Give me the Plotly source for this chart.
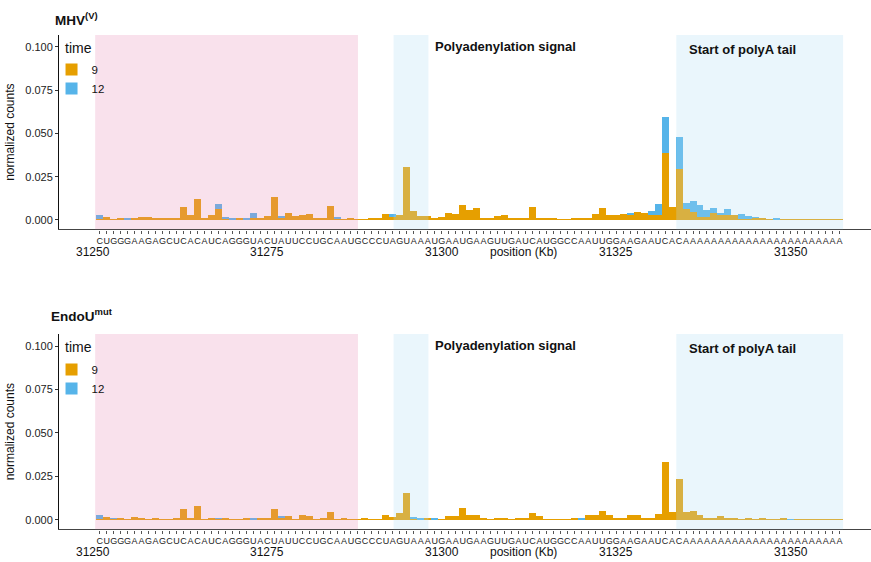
import plotly.graph_objects as go

# ---------------- data ----------------
positions = list(range(31251, 31358))
seq_parts = ["CUGGGAAGAGCUCACAUCAGGGUACUAUUCCUGCAAUG",
             "CCCUAGUAAAUGAAUGAAGUUGAUCAUGGCCAAUUG",
             "GAAGAAUCAC",
             "AAAAAAAAAAAAAAAAAAAAAAA"]
letters = list("".join(seq_parts))

number_ticks = [31250, 31275, 31300, 31325, 31350]
times = ["9", "12"]
panel_titles = ["<b>MHV</b><sup><b>(V)</b></sup>", "<b>EndoU</b><sup><b>mut</b></sup>"]

mhv_t9 = [0.0004, 0.0017, 0.0002, 0.0006, 0.0004, 0.0012, 0.0017, 0.0017, 0.0006, 0.0006,
          0.0006, 0.0006, 0.0075, 0.0029, 0.0121, 0.0012, 0.0029, 0.0064, 0.0006, 0.0004,
          0.0012, 0.0002, 0.0012, 0.0012, 0.0023, 0.0133, 0.0017, 0.0040, 0.0023, 0.0029,
          0.0035, 0.0006, 0.0006, 0.0081, 0.0006, 0.0002, 0.0006, 0.0001, 0.0001, 0.0012,
          0.0006, 0.0035, 0.0017, 0.0029, 0.0308, 0.0052, 0.0023, 0.0023, 0.0012, 0.0017,
          0.0040, 0.0035, 0.0087, 0.0058, 0.0069, 0.0012, 0.0006, 0.0023, 0.0029, 0.0006,
          0.0012, 0.0006, 0.0075, 0.0012, 0.0012, 0.0006, 0.0001, 0.0001, 0.0012, 0.0012,
          0.0012, 0.0035, 0.0069, 0.0029, 0.0029, 0.0035, 0.0029, 0.0046, 0.0040, 0.0029,
          0.0029, 0.0385, 0.0075, 0.0295, 0.0064, 0.0046, 0.0017, 0.0017, 0.0040, 0.0029,
          0.0029, 0.0029, 0.0006, 0.0006, 0.0012, 0.0006, 0.0002, 0.0002, 0.0002, 0.0002,
          0.0002, 0.0002, 0.0002, 0.0002, 0.0002, 0.0002, 0.0002]
mhv_t12 = [0.0025, 0, 0, 0, 0.0002, 0, 0, 0, 0, 0,
           0, 0, 0, 0, 0, 0, 0, 0.0028, 0.0011, 0.0002,
           0, 0.0004, 0.0028, 0, 0, 0, 0.0006, 0, 0, 0,
           0, 0, 0, 0, 0.0011, 0, 0, 0, 0, 0,
           0, 0, 0.0018, 0, 0, 0, 0, 0, 0, 0,
           0, 0, 0, 0, 0, 0, 0, 0, 0, 0,
           0, 0, 0, 0, 0, 0, 0, 0, 0, 0,
           0, 0, 0, 0, 0, 0, 0.0006, 0, 0, 0.0023,
           0.0063, 0.0212, 0, 0.0183, 0.0034, 0.0064, 0.0070, 0.0041, 0.0029, 0.0011,
           0.0035, 0, 0.0029, 0.0017, 0.0005, 0, 0, 0.0010, 0, 0,
           0, 0, 0, 0, 0, 0, 0]
endo_t9 = [0.0006, 0.0017, 0.0006, 0.0006, 0.0001, 0.0017, 0.0012, 0.0001, 0.0012, 0.0002,
           0.0001, 0.0006, 0.0064, 0.0006, 0.0081, 0.0001, 0.0006, 0.0006, 0.0006, 0.0002,
           0.0001, 0.0006, 0.0002, 0.0006, 0.0012, 0.0064, 0.0012, 0.0023, 0.0001, 0.0029,
           0.0023, 0.0001, 0.0006, 0.0046, 0.0001, 0.0006, 0.0002, 0.0001, 0.0006, 0.0001,
           0.0001, 0.0029, 0.0017, 0.0040, 0.0156, 0.0006, 0.0002, 0.0006, 0.0002, 0.0001,
           0.0023, 0.0023, 0.0069, 0.0029, 0.0029, 0.0012, 0.0001, 0.0012, 0.0012, 0.0001,
           0.0012, 0.0006, 0.0040, 0.0023, 0.0001, 0.0001, 0.0001, 0.0001, 0.0006, 0.0002,
           0.0029, 0.0029, 0.0054, 0.0029, 0.0006, 0.0012, 0.0029, 0.0029, 0.0006, 0.0012,
           0.0035, 0.0335, 0.0046, 0.0237, 0.0046, 0.0052, 0.0029, 0.0012, 0.0006, 0.0023,
           0.0012, 0.0012, 0.0001, 0.0006, 0.0001, 0.0006, 0.0001, 0.0001, 0.0006, 0.0001,
           0.0001, 0.0001, 0.0001, 0.0001, 0.0001, 0.0001, 0.0001]
endo_t12 = [0.0023, 0, 0.0002, 0, 0, 0, 0, 0, 0, 0,
            0, 0, 0, 0, 0, 0, 0, 0.0001, 0, 0,
            0, 0, 0.0004, 0, 0, 0, 0.0011, 0, 0, 0,
            0, 0, 0, 0, 0, 0, 0, 0, 0, 0,
            0, 0, 0, 0, 0, 0.0006, 0.0004, 0, 0.0004, 0,
            0, 0, 0, 0, 0, 0, 0, 0, 0, 0,
            0, 0, 0, 0, 0, 0, 0, 0, 0, 0.0004,
            0, 0, 0, 0, 0, 0, 0, 0, 0, 0,
            0, 0, 0, 0, 0, 0, 0, 0, 0, 0,
            0, 0, 0, 0, 0, 0, 0, 0, 0, 0.0002,
            0, 0, 0, 0, 0, 0, 0]

# shaded regions (x start, x end, colour)
regions = [(31250.35, 31288.0, "rgba(232,140,182,0.26)"),
           (31293.1, 31298.1, "rgba(179,221,243,0.27)"),
           (31333.6, 31357.5, "rgba(179,221,243,0.27)")]
region_labels = [("<b>Polyadenylation signal</b>", 31298.75, 0.1005),
                 ("<b>Start of polyA tail</b>", 31335.2, 0.0985)]

colors = {"9": "#E69F00", "12": "#56B4E9"}
legend_title = "time"

# ---------------- figure ----------------
W, H = 871, 562
fig = go.Figure()

panels = [(mhv_t9, mhv_t12), (endo_t9, endo_t12)]
for i, (v9, v12) in enumerate(panels):
    xa = "x" if i == 0 else "x2"
    ya = "y" if i == 0 else "y2"
    lg = "legend" if i == 0 else "legend2"
    for t, vals in zip(times, [v9, v12]):
        fig.add_trace(go.Bar(x=positions, y=vals, name=t, marker_color=colors[t],
                             marker_line_width=0, width=1, xaxis=xa, yaxis=ya,
                             legend=lg, hoverinfo="x+y+name"))

x_range = [31245.17, 31361.5]
y_range = [-0.0054, 0.1069]
font_family = "Liberation Sans, Arial, sans-serif"

common_x = dict(range=x_range, tickmode="array", tickvals=positions, ticktext=letters,
                tickangle=0, ticks="outside", ticklen=3, tickwidth=0.7, tickcolor="#555",
                tickfont=dict(size=9, color="#222", family=font_family),
                showline=True, linecolor="#444", linewidth=1.4, showgrid=False,
                zeroline=False, automargin=False, fixedrange=True)
common_y = dict(range=y_range, tickmode="array",
                tickvals=[0, 0.025, 0.05, 0.075, 0.1],
                ticktext=["0.000", "0.025", "0.050", "0.075", "0.100"],
                ticks="outside", ticklen=3, tickcolor="#333", tickwidth=1,
                tickfont=dict(size=11, color="#222", family=font_family),
                showline=True, linecolor="#111", linewidth=1, showgrid=False,
                zeroline=False, automargin=False,
                title=dict(text="normalized counts", standoff=8,
                           font=dict(size=12, color="#111", family=font_family)))

top_dom = [1 - 229.3 / H, 1 - 35 / H]
bot_dom = [1 - 529.3 / H, 1 - 334 / H]

legend_common = dict(xanchor="left", yanchor="top", traceorder="normal",
                     bgcolor="rgba(0,0,0,0)",
                     font=dict(size=11.5, family=font_family), itemwidth=30,
                     tracegroupgap=0)

fig.update_layout(
    width=W, height=H,
    margin=dict(l=59, r=0, t=0, b=0),
    paper_bgcolor="white", plot_bgcolor="white",
    barmode="relative", bargap=0,
    font=dict(family=font_family, color="#111"),
    xaxis=dict(domain=[0, 1], anchor="y", **common_x),
    xaxis2=dict(domain=[0, 1], anchor="y2", **common_x),
    yaxis=dict(domain=top_dom, anchor="x", **common_y),
    yaxis2=dict(domain=bot_dom, anchor="x2", **common_y),
    legend=dict(x=-0.0092, y=1 - 55 / H, **legend_common),
    legend2=dict(x=-0.0092, y=1 - 355 / H, **legend_common),
    showlegend=True,
)

shapes = []
annotations = []
for i in range(2):
    xr = "x" if i == 0 else "x2"
    yr = "y" if i == 0 else "y2"
    for x0, x1, col in regions:
        shapes.append(dict(type="rect", xref=xr, yref=yr + " domain", x0=x0, x1=x1,
                           y0=0, y1=1, fillcolor=col, line_width=0, layer="above"))
    for txt, xv, yv in region_labels:
        annotations.append(dict(text=txt, x=xv, y=yv, xref=xr, yref=yr, xanchor="left",
                                yanchor="middle", showarrow=False,
                                font=dict(size=13, color="#111", family=font_family)))
    row_y = (1 - 252 / H) if i == 0 else (1 - 552 / H)
    for n in number_ticks:
        annotations.append(dict(text=str(n), x=n, y=row_y, xref=xr, yref="paper",
                                xanchor="center", yanchor="middle", showarrow=False,
                                font=dict(size=12, color="#111", family=font_family)))
    annotations.append(dict(text="position (Kb)", x=31311.7, y=row_y, xref=xr, yref="paper",
                            xanchor="center", yanchor="middle", showarrow=False,
                            font=dict(size=12, color="#111", family=font_family)))
    title_y = (1 - 19.5 / H) if i == 0 else (1 - 315 / H)
    title_x = (53.3 - 59) / 812 if i == 0 else (49.3 - 59) / 812
    annotations.append(dict(text=panel_titles[i], x=title_x, y=title_y, xref="paper",
                            yref="paper", xanchor="left", yanchor="middle", showarrow=False,
                            font=dict(size=13.5, color="#111", family=font_family)))
    leg_y = (1 - 48 / H) if i == 0 else (1 - 347 / H)
    annotations.append(dict(text=legend_title, x=(62.5 - 59) / 812, y=leg_y, xref="paper",
                            yref="paper", xanchor="left", yanchor="middle", showarrow=False,
                            font=dict(size=14, color="#111", family=font_family)))

fig.update_layout(shapes=shapes, annotations=annotations)
fig.write_html("out.html")
